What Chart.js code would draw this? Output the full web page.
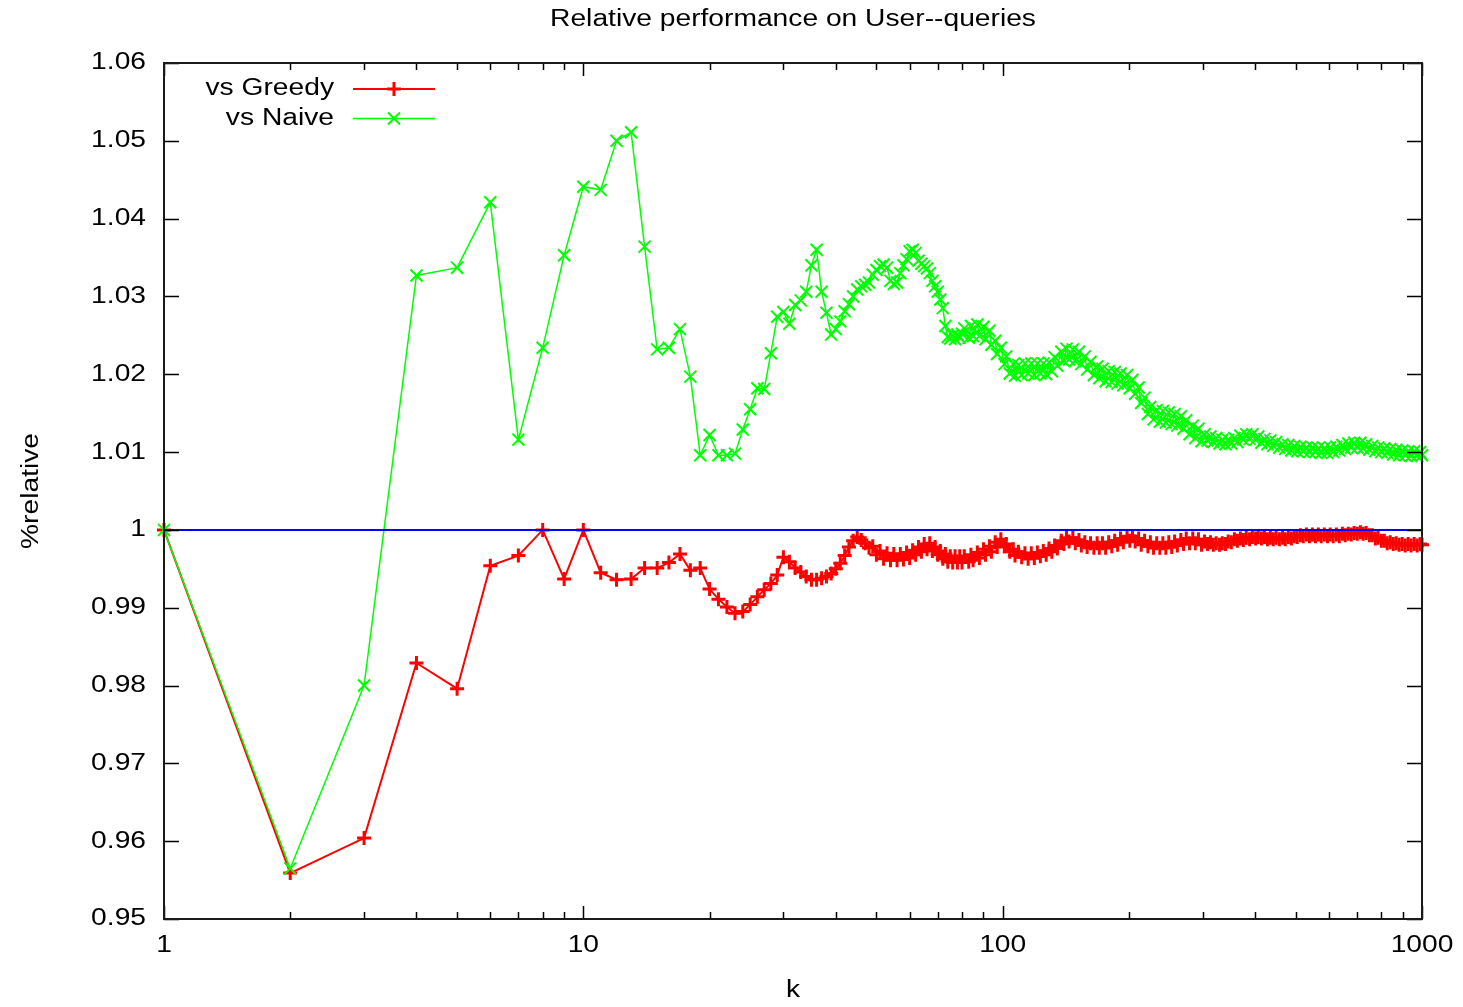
<!DOCTYPE html>
<html>
<head>
<meta charset="utf-8">
<title>Relative performance on User--queries</title>
<script src="https://cdn.jsdelivr.net/npm/chart.js@4.4.1/dist/chart.umd.min.js"></script>
<style>
  html, body { margin: 0; padding: 0; background: #ffffff; }
  #wrap { width: 1463px; height: 1007px; }
</style>
</head>
<body>
<div id="wrap"><canvas id="chart" width="1463" height="1007"></canvas></div>
<script>
// ---- data -------------------------------------------------------------
const titleText = 'Relative performance on User--queries';
const xTitle = 'k';
const yTitle = '%relative';
const seriesNames = ['vs Greedy', 'vs Naive'];

const kValues = [
  1, 2, 3, 4, 5, 6, 7, 8, 9, 10,
  11, 12, 13, 14, 15, 16, 17, 18, 19, 20,
  21, 22, 23, 24, 25, 26, 27, 28, 29, 30,
  31, 32, 33, 34, 35, 36, 37, 38, 39, 40,
  41, 42, 43, 44, 45, 46, 47, 48, 49, 50,
  51, 52, 53, 54, 55, 56, 57, 58, 59, 60,
  61, 62, 63, 64, 65, 66, 67, 68, 69, 70,
  71, 72, 73, 74, 75, 76, 77, 78, 79, 80,
  81, 83, 84, 85, 87, 88, 90, 91, 93, 94,
  96, 97, 99, 101, 102, 104, 106, 107, 109, 111,
  113, 115, 117, 119, 121, 123, 125, 127, 129, 131,
  133, 135, 138, 140, 142, 144, 147, 149, 152, 154,
  157, 159, 162, 165, 168, 170, 173, 176, 179, 182,
  185, 188, 191, 194, 198, 201, 204, 207, 211, 214,
  218, 222, 225, 229, 233, 237, 241, 245, 249, 253,
  257, 261, 266, 270, 274, 279, 284, 288, 293, 298,
  303, 308, 313, 318, 323, 329, 334, 340, 345, 351,
  357, 363, 369, 375, 381, 388, 394, 401, 407, 414,
  421, 428, 435, 442, 449, 457, 465, 472, 480, 488,
  496, 504, 513, 521, 530, 539, 548, 557, 566, 575,
  585, 595, 604, 614, 625, 635, 646, 656, 667, 678,
  689, 701, 713, 724, 736, 749, 761, 774, 786, 800,
  813, 826, 840, 854, 868, 882, 897, 912, 927, 942,
  958, 974, 990, 1000
];

const vsGreedy = [
  1.0000, 0.9559, 0.9604, 0.9829, 0.9796, 0.9954, 0.9967, 1.0000, 0.9937, 1.0000,
  0.9945, 0.9936, 0.9937, 0.9951, 0.9951, 0.9958, 0.9969, 0.9948, 0.9951, 0.9924,
  0.9911, 0.9901, 0.9893, 0.9895, 0.9904, 0.9914, 0.9923, 0.9931, 0.9942, 0.9965,
  0.9959, 0.9951, 0.9946, 0.9940, 0.9936, 0.9936, 0.9938, 0.9940, 0.9944, 0.9950,
  0.9957, 0.9967, 0.9978, 0.9986, 0.9991, 0.9987, 0.9983, 0.9977, 0.9979, 0.9968,
  0.9973, 0.9963, 0.9970, 0.9961, 0.9969, 0.9961, 0.9969, 0.9962, 0.9971, 0.9964,
  0.9974, 0.9968, 0.9978, 0.9972, 0.9982, 0.9975, 0.9983, 0.9973, 0.9978, 0.9968,
  0.9973, 0.9963, 0.9969, 0.9959, 0.9966, 0.9958, 0.9966, 0.9958, 0.9966, 0.9958,
  0.9966, 0.9959, 0.9968, 0.9961, 0.9971, 0.9964, 0.9975, 0.9968, 0.9979, 0.9972,
  0.9984, 0.9978, 0.9988, 0.9979, 0.9982, 0.9972, 0.9975, 0.9967, 0.9972, 0.9965,
  0.9970, 0.9963, 0.9970, 0.9964, 0.9971, 0.9966, 0.9973, 0.9968, 0.9976, 0.9972,
  0.9980, 0.9976, 0.9986, 0.9982, 0.9990, 0.9985, 0.9990, 0.9983, 0.9987, 0.9980,
  0.9984, 0.9978, 0.9983, 0.9977, 0.9983, 0.9977, 0.9983, 0.9977, 0.9984, 0.9979,
  0.9986, 0.9981, 0.9989, 0.9984, 0.9992, 0.9986, 0.9992, 0.9985, 0.9989, 0.9981,
  0.9986, 0.9979, 0.9984, 0.9977, 0.9983, 0.9977, 0.9983, 0.9977, 0.9984, 0.9978,
  0.9985, 0.9980, 0.9987, 0.9982, 0.9989, 0.9983, 0.9989, 0.9983, 0.9988, 0.9981,
  0.9985, 0.9982, 0.9984, 0.9981, 0.9983, 0.9981, 0.9983, 0.9982, 0.9985, 0.9984,
  0.9988, 0.9986, 0.9989, 0.9987, 0.9990, 0.9988, 0.9991, 0.9989, 0.9991, 0.9989,
  0.9991, 0.9988, 0.9990, 0.9988, 0.9990, 0.9988, 0.9990, 0.9988, 0.9991, 0.9989,
  0.9992, 0.9991, 0.9993, 0.9992, 0.9994, 0.9992, 0.9994, 0.9992, 0.9994, 0.9992,
  0.9994, 0.9992, 0.9994, 0.9992, 0.9994, 0.9992, 0.9995, 0.9993, 0.9995, 0.9994,
  0.9996, 0.9995, 0.9997, 0.9995, 0.9996, 0.9993, 0.9993, 0.9989, 0.9990, 0.9986,
  0.9986, 0.9983, 0.9984, 0.9982, 0.9983, 0.9981, 0.9982, 0.9980, 0.9982, 0.9980,
  0.9982, 0.9980, 0.9982, 0.9981
];

const vsNaive = [
  1.0000, 0.9565, 0.9800, 1.0327, 1.0337, 1.0421, 1.0116, 1.0234, 1.0353, 1.0441,
  1.0437, 1.0500, 1.0511, 1.0364, 1.0232, 1.0234, 1.0258, 1.0197, 1.0096, 1.0122,
  1.0096, 1.0096, 1.0098, 1.0129, 1.0155, 1.0182, 1.0181, 1.0227, 1.0274, 1.0280,
  1.0265, 1.0289, 1.0295, 1.0306, 1.0340, 1.0360, 1.0306, 1.0279, 1.0251, 1.0258,
  1.0268, 1.0281, 1.0290, 1.0300, 1.0309, 1.0313, 1.0315, 1.0318, 1.0328, 1.0334,
  1.0339, 1.0341, 1.0337, 1.0320, 1.0316, 1.0318, 1.0330, 1.0340, 1.0348, 1.0358,
  1.0360, 1.0356, 1.0346, 1.0342, 1.0339, 1.0336, 1.0330, 1.0320, 1.0313, 1.0306,
  1.0296, 1.0285, 1.0262, 1.0248, 1.0246, 1.0250, 1.0245, 1.0251, 1.0247, 1.0252,
  1.0259, 1.0247, 1.0262, 1.0249, 1.0264, 1.0249, 1.0261, 1.0245, 1.0256, 1.0238,
  1.0243, 1.0226, 1.0234, 1.0213, 1.0223, 1.0201, 1.0213, 1.0198, 1.0212, 1.0199,
  1.0214, 1.0201, 1.0214, 1.0199, 1.0214, 1.0201, 1.0214, 1.0200, 1.0215, 1.0204,
  1.0222, 1.0211, 1.0229, 1.0217, 1.0233, 1.0219, 1.0232, 1.0217, 1.0229, 1.0213,
  1.0223, 1.0206, 1.0216, 1.0199, 1.0210, 1.0195, 1.0207, 1.0191, 1.0204, 1.0190,
  1.0203, 1.0188, 1.0201, 1.0186, 1.0199, 1.0182, 1.0193, 1.0175, 1.0183, 1.0163,
  1.0170, 1.0149, 1.0158, 1.0142, 1.0154, 1.0139, 1.0153, 1.0138, 1.0151, 1.0136,
  1.0149, 1.0134, 1.0146, 1.0130, 1.0141, 1.0123, 1.0134, 1.0118, 1.0130, 1.0114,
  1.0123, 1.0115, 1.0120, 1.0113, 1.0118, 1.0111, 1.0116, 1.0110, 1.0116, 1.0111,
  1.0118, 1.0113, 1.0121, 1.0116, 1.0123, 1.0117, 1.0123, 1.0116, 1.0120, 1.0112,
  1.0117, 1.0110, 1.0115, 1.0108, 1.0113, 1.0106, 1.0110, 1.0104, 1.0109, 1.0102,
  1.0108, 1.0101, 1.0107, 1.0101, 1.0106, 1.0100, 1.0106, 1.0100, 1.0105, 1.0099,
  1.0105, 1.0099, 1.0106, 1.0100, 1.0107, 1.0102, 1.0109, 1.0104, 1.0111, 1.0106,
  1.0112, 1.0106, 1.0112, 1.0105, 1.0110, 1.0103, 1.0108, 1.0101, 1.0106, 1.0100,
  1.0105, 1.0099, 1.0104, 1.0097, 1.0103, 1.0096, 1.0102, 1.0096, 1.0101, 1.0095,
  1.0101, 1.0095, 1.0100, 1.0096
];

// reference level drawn across the full k range
const baselineK = [1, 1000];
const baselineY = [1, 1];

const yTickValues = [0.95, 0.96, 0.97, 0.98, 0.99, 1.00, 1.01, 1.02, 1.03, 1.04, 1.05, 1.06];
const yTickLabels = ['0.95', '0.96', '0.97', '0.98', '0.99', '1', '1.01', '1.02', '1.03', '1.04', '1.05', '1.06'];
const xMajorTicks = [1, 10, 100, 1000];
const xTickLabels = ['1', '10', '100', '1000'];
const xMinorTicks = [2, 3, 4, 5, 6, 7, 8, 9, 20, 30, 40, 50, 60, 70, 80, 90, 200, 300, 400, 500, 600, 700, 800, 900];

// ---- rendering ----------------------------------------------------------
const FONT_FAMILY = '"Liberation Sans", Arial, sans-serif';
const FONT_SIZE = 23.5;
const WIDEN = 1.2;  // text is set horizontally widened

const canvas = document.getElementById('chart');
const ctx = canvas.getContext('2d');
const baseFillText = CanvasRenderingContext2D.prototype.fillText;
ctx.fillText = function (text, x, y, maxWidth) {
  this.save();
  this.translate(x, y);
  this.scale(WIDEN, 1);
  if (maxWidth === undefined || maxWidth === null) {
    baseFillText.call(this, text, 0, 0);
  } else {
    baseFillText.call(this, text, 0, 0, maxWidth / WIDEN);
  }
  this.restore();
};

function toPoints(xs, ys) {
  return xs.map((x, i) => ({ x: x, y: ys[i] }));
}

function drawMark(c, style, r, x, y) {
  c.beginPath();
  if (style === 'cross') {
    c.moveTo(x - r, y); c.lineTo(x + r, y);
    c.moveTo(x, y - r); c.lineTo(x, y + r);
  } else {
    const d = r * Math.SQRT1_2;
    c.moveTo(x - d, y - d); c.lineTo(x + d, y + d);
    c.moveTo(x - d, y + d); c.lineTo(x + d, y - d);
  }
  c.stroke();
}

// border box with inward tick marks on all four sides
const framePlugin = {
  id: 'frame',
  afterDatasetsDraw(chart) {
    const c = chart.ctx;
    const a = chart.chartArea;
    const xs = chart.scales.x;
    const ys = chart.scales.y;
    c.save();
    c.strokeStyle = '#000';
    c.lineWidth = 1.5;
    c.beginPath();
    yTickValues.forEach(v => {
      const py = Math.round(ys.getPixelForValue(v)) + 0.5;
      c.moveTo(a.left, py); c.lineTo(a.left + 15, py);
      c.moveTo(a.right, py); c.lineTo(a.right - 15, py);
    });
    xMajorTicks.forEach(v => {
      const px = Math.round(xs.getPixelForValue(v)) + 0.5;
      c.moveTo(px, a.bottom); c.lineTo(px, a.bottom - 13);
      c.moveTo(px, a.top); c.lineTo(px, a.top + 13);
    });
    xMinorTicks.forEach(v => {
      const px = Math.round(xs.getPixelForValue(v)) + 0.5;
      c.moveTo(px, a.bottom); c.lineTo(px, a.bottom - 7);
      c.moveTo(px, a.top); c.lineTo(px, a.top + 7);
    });
    c.stroke();
    c.strokeStyle = '#1a1a1a';
    c.lineWidth = 2;
    c.strokeRect(a.left, a.top, a.right - a.left, a.bottom - a.top);
    c.restore();
  }
};

// title centred over the plot, and the key in the upper left
const annotatePlugin = {
  id: 'annotate',
  afterDraw(chart) {
    const c = chart.ctx;
    const a = chart.chartArea;
    c.save();
    c.font = FONT_SIZE + 'px ' + FONT_FAMILY;
    c.fillStyle = '#000';
    c.textAlign = 'center';
    c.textBaseline = 'middle';
    c.fillText(titleText, (a.left + a.right) / 2, 20);
    c.restore();

    chart.data.datasets.slice(0, 2).forEach((ds, i) => {
      const yy = 89 + i * 29.5;
      c.save();
      c.font = FONT_SIZE + 'px ' + FONT_FAMILY;
      c.fillStyle = '#000';
      c.textAlign = 'right';
      c.textBaseline = 'middle';
      c.fillText(ds.label, 334, yy);
      c.strokeStyle = ds.borderColor;
      c.lineWidth = ds.borderWidth;
      c.beginPath();
      c.moveTo(353, yy); c.lineTo(435, yy);
      c.stroke();
      c.lineWidth = ds.pointBorderWidth;
      drawMark(c, ds.pointStyle, ds.pointRadius, 394, yy);
      c.restore();
    });
  }
};

Chart.defaults.font.family = FONT_FAMILY;
Chart.defaults.font.size = FONT_SIZE;
Chart.defaults.color = '#000';

new Chart(ctx, {
  type: 'line',
  data: {
    datasets: [
      {
        label: seriesNames[0],
        data: toPoints(kValues, vsGreedy),
        borderColor: '#ff0000',
        backgroundColor: '#ff0000',
        borderWidth: 2,
        pointStyle: 'cross',
        pointRadius: 7,
        pointBorderWidth: 3,
        pointBorderColor: '#ff0000',
        fill: false,
        tension: 0,
        clip: 12,
        order: 2
      },
      {
        label: seriesNames[1],
        data: toPoints(kValues, vsNaive),
        borderColor: '#00ff00',
        backgroundColor: '#00ff00',
        borderWidth: 1.5,
        pointStyle: 'crossRot',
        pointRadius: 8.5,
        pointBorderWidth: 2,
        pointBorderColor: '#00ff00',
        fill: false,
        tension: 0,
        clip: 12,
        order: 1
      },
      {
        label: '1',
        data: toPoints(baselineK, baselineY),
        borderColor: '#0000ff',
        borderWidth: 2,
        pointRadius: 0,
        fill: false,
        order: 0
      }
    ]
  },
  options: {
    responsive: false,
    animation: false,
    events: [],
    layout: { padding: { left: 0, right: 41, top: 63, bottom: 0 } },
    plugins: {
      legend: { display: false },
      tooltip: { enabled: false },
      title: { display: false }
    },
    scales: {
      x: {
        type: 'logarithmic',
        min: 1,
        max: 1000,
        grid: { display: false, drawTicks: false },
        border: { display: false },
        afterBuildTicks(scale) {
          scale.ticks = xMajorTicks.map(v => ({ value: v }));
        },
        afterFit(scale) { scale.height = 88; },
        ticks: {
          autoSkip: false,
          maxRotation: 0,
          padding: 12,
          color: '#000',
          callback: (v, i) => xTickLabels[i]
        },
        title: {
          display: true,
          text: xTitle,
          color: '#000',
          font: { size: FONT_SIZE },
          padding: { top: 0, bottom: 2 }
        }
      },
      y: {
        type: 'linear',
        min: 0.95,
        max: 1.06,
        grid: { display: false, drawTicks: false },
        border: { display: false },
        afterBuildTicks(scale) {
          scale.ticks = yTickValues.map(v => ({ value: v }));
        },
        afterFit(scale) { scale.width = 164; },
        ticks: {
          autoSkip: false,
          padding: 18,
          color: '#000',
          callback: (v, i) => yTickLabels[i]
        },
        title: {
          display: true,
          text: yTitle,
          color: '#000',
          font: { size: FONT_SIZE },
          padding: { top: 17, bottom: 0 }
        }
      }
    }
  },
  plugins: [framePlugin, annotatePlugin]
});
</script>
</body>
</html>
